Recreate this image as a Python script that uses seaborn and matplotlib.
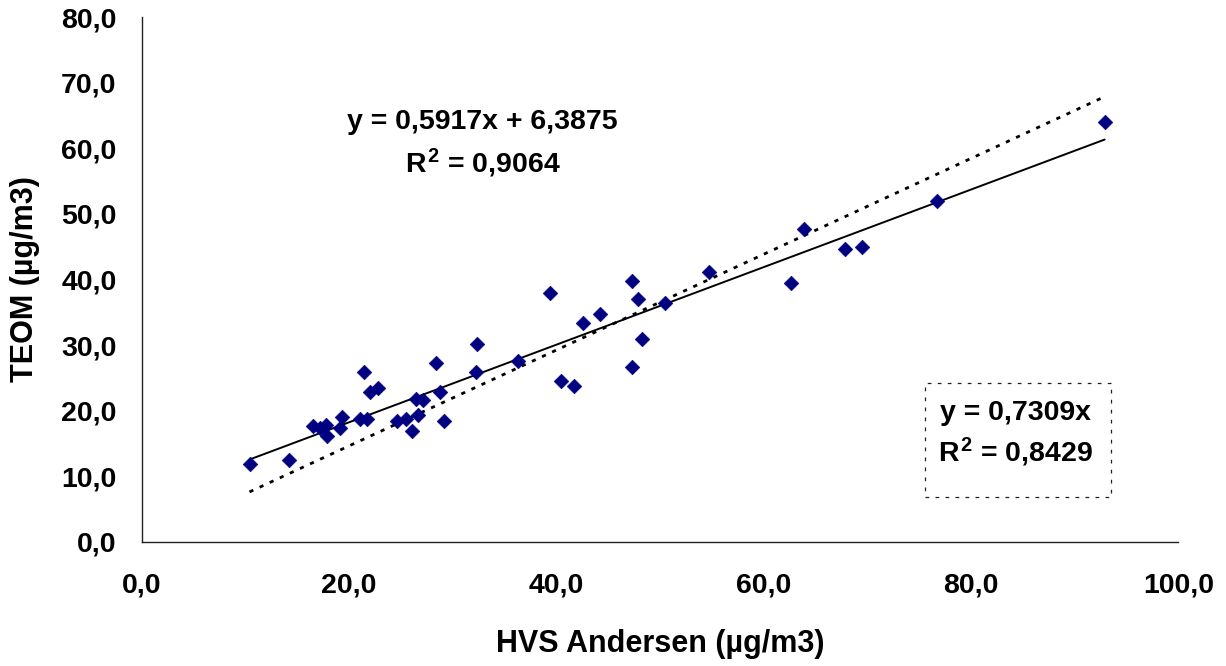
import matplotlib
matplotlib.use("Agg")
import matplotlib.pyplot as plt
from matplotlib.patches import Rectangle
from matplotlib.ticker import FuncFormatter
import numpy as np
import seaborn as sns

# HVS Andersen reference sampler vs TEOM monitor (µg/m3)
hvs_andersen = [10.4, 14.2, 16.55, 17.2, 17.8, 17.9, 19.1, 19.3, 21.1, 21.4,
                21.7, 22.0, 22.8, 24.6, 25.5, 26.1, 26.5, 26.7, 27.1, 28.4,
                28.8, 29.2, 32.2, 32.3, 36.3, 39.4, 40.4, 41.7, 42.6, 44.2,
                47.3, 47.9, 47.3, 48.3, 50.5, 54.7, 62.6, 63.9, 67.8, 69.5,
                76.7, 92.9]
teom = [11.9, 12.5, 17.7, 17.3, 17.8, 16.1, 17.3, 19.0, 18.7, 25.9,
        18.7, 22.9, 23.5, 18.4, 18.7, 16.9, 21.7, 19.3, 21.6, 27.2,
        22.9, 18.4, 25.9, 30.2, 27.6, 37.9, 24.5, 23.8, 33.3, 34.8,
        39.7, 37.0, 26.6, 30.9, 36.4, 41.2, 39.4, 47.7, 44.6, 44.9,
        52.0, 64.1]

# Trend lines: linear with intercept, and through the origin
lin_slope, lin_intercept, lin_r2 = 0.5917, 6.3875, 0.9064
origin_slope, origin_r2 = 0.7309, 0.8429

x_ticks = [0, 20, 40, 60, 80, 100]
y_ticks = [0, 10, 20, 30, 40, 50, 60, 70, 80]


def comma(v, decimals=1):
    return f"{v:.{decimals}f}".replace(".", ",")


sns.set_style("white")
plt.rcParams["font.family"] = ["Liberation Sans", "DejaVu Sans"]
plt.rcParams["font.weight"] = "bold"
plt.rcParams["text.color"] = "black"
plt.rcParams["axes.labelcolor"] = "black"
plt.rcParams["xtick.color"] = "black"
plt.rcParams["ytick.color"] = "black"
plt.rcParams["mathtext.fontset"] = "custom"
plt.rcParams["mathtext.rm"] = "Liberation Sans:bold"
plt.rcParams["mathtext.it"] = "Liberation Sans:bold"
plt.rcParams["mathtext.bf"] = "Liberation Sans:bold"

TXT = 20.5

fig = plt.figure(figsize=(12.26, 6.66), dpi=100)
ax = fig.add_axes([0.1156, 0.1866, 0.8455, 0.7874])

sns.scatterplot(x=hvs_andersen, y=teom, marker="D", s=56, color="#000080",
                edgecolor="#000080", linewidth=0.4, ax=ax, zorder=3)

xs = np.array([min(hvs_andersen), max(hvs_andersen)])
ax.plot(xs, lin_slope * xs + lin_intercept, color="black", lw=1.4, zorder=2)
ax.plot(xs, origin_slope * xs, color="black", lw=2.0,
        linestyle=(0, (1.5, 2.5)), zorder=2)

ax.set_xlim(x_ticks[0], x_ticks[-1])
ax.set_ylim(y_ticks[0], y_ticks[-1])
ax.set_xticks(x_ticks)
ax.set_yticks(y_ticks)
ax.xaxis.set_major_formatter(FuncFormatter(lambda v, p: comma(v)))
ax.yaxis.set_major_formatter(FuncFormatter(lambda v, p: comma(v)))

for side in ("top", "right"):
    ax.spines[side].set_visible(False)
for side in ("left", "bottom"):
    ax.spines[side].set_color("#202020")
    ax.spines[side].set_linewidth(1.0)

ax.tick_params(axis="both", direction="out", length=7.2, width=1.0,
               color="#202020", labelsize=TXT, labelcolor="black")
ax.tick_params(axis="x", pad=15)
ax.tick_params(axis="y", pad=11)
for lbl in ax.get_xticklabels() + ax.get_yticklabels():
    lbl.set_fontweight("bold")

ax.set_xlabel("HVS Andersen (µg/m3)", fontsize=22, fontweight="bold")
ax.set_ylabel("TEOM (µg/m3)", fontsize=22, fontweight="bold")
ax.xaxis.label.set_va("center")
ax.yaxis.label.set_va("center")
ax.xaxis.set_label_coords(0.5, -0.195)
ax.yaxis.set_label_coords(-0.1125, 0.5)

# Equation of the linear fit
ax.text(0.3288, 0.8003, f"y = {comma(lin_slope, 4)}x + {comma(lin_intercept, 4)}",
        transform=ax.transAxes, ha="center", va="center", fontsize=TXT,
        fontweight="bold")
ax.text(0.3288, 0.7222, f"$R^2$ = {comma(lin_r2, 4)}", transform=ax.transAxes,
        ha="center", va="center", fontsize=TXT, fontweight="bold")

# Equation of the fit through the origin, in a dashed frame
ax.add_patch(Rectangle((0.7556, 0.0852), 0.1792, 0.2174, transform=ax.transAxes,
                       fill=False, edgecolor="#202020", lw=0.9,
                       linestyle=(0, (3, 5)), zorder=4))
ax.text(0.8432, 0.2454, f"y = {comma(origin_slope, 4)}x", transform=ax.transAxes,
        ha="center", va="center", fontsize=TXT, fontweight="bold")
ax.text(0.8432, 0.1711, f"$R^2$ = {comma(origin_r2, 4)}", transform=ax.transAxes,
        ha="center", va="center", fontsize=TXT, fontweight="bold")

fig.savefig("out.png", dpi=100, facecolor="white")
